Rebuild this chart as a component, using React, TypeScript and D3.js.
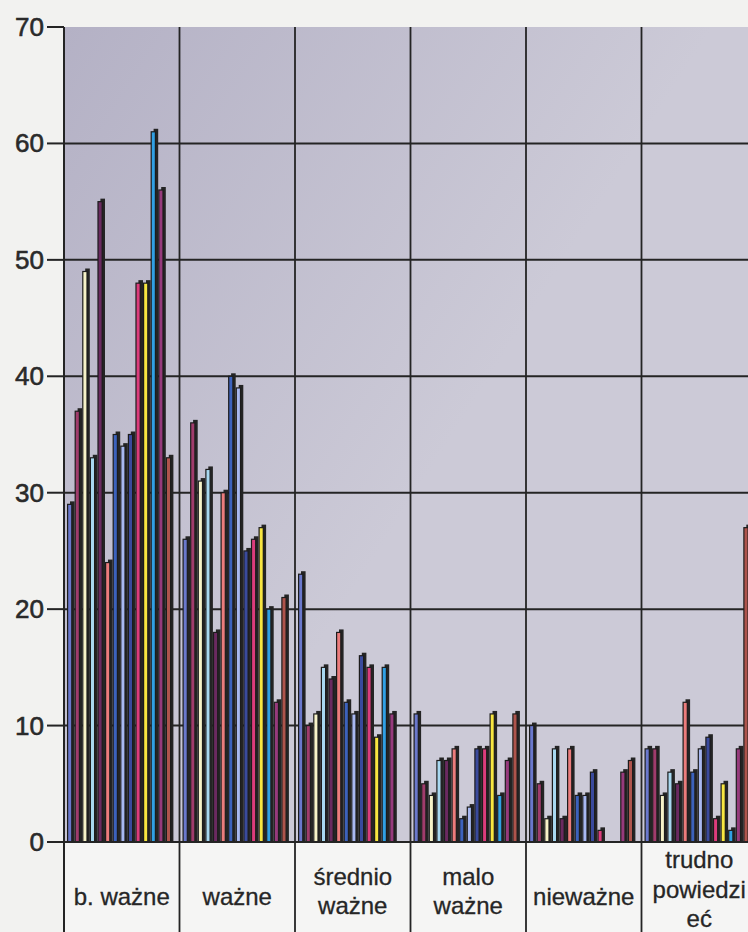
import { useEffect, useRef } from 'react';
import * as d3 from 'd3';

// Category labels (lines split for the table cells under the plot)
const categories = ['b. ważne', 'ważne', 'średnio ważne', 'malo ważne', 'nieważne', 'trudno powiedzieć'];
const categoryLines = [
  ['b. ważne'],
  ['ważne'],
  ['średnio', 'ważne'],
  ['malo', 'ważne'],
  ['nieważne'],
  ['trudno', 'powiedzi', 'eć'],
];

// 14 series per category
const bWazne = [29, 37, 49, 33, 55, 24, 35, 34, 35, 48, 48, 61, 56, 33];
const wazne = [26, 36, 31, 32, 18, 30, 40, 39, 25, 26, 27, 20, 12, 21];
const srednioWazne = [23, 10, 11, 15, 14, 18, 12, 11, 16, 15, 9, 15, 11, 0];
const maloWazne = [11, 5, 4, 7, 7, 8, 2, 3, 8, 8, 11, 4, 7, 11];
const niewazne = [10, 5, 2, 8, 2, 8, 4, 4, 6, 1, 0, 0, 6, 7];
const trudno = [8, 8, 4, 6, 5, 12, 6, 8, 9, 2, 5, 1, 8, 27];
const values = [bWazne, wazne, srednioWazne, maloWazne, niewazne, trudno];

const seriesColors = [
  '#6a78cc', '#a03c6c', '#f6f2c8', '#a8d8f0', '#6a2a60', '#ec7c7c', '#3c62bc',
  '#a8b8f0', '#3a4a9c', '#dc3c7c', '#f8e640', '#30a0e4', '#963a7c', '#ae544c',
];

const yTicks = [0, 10, 20, 30, 40, 50, 60, 70];

const W = 748;
const H = 932;
const left = 64;
const top = 27;
const zeroY = 842;
const catWidth = 115.5;
const ink = '#242424';

export default function App() {
  const ref = useRef<SVGSVGElement>(null);

  useEffect(() => {
    const svg = d3.select(ref.current);
    svg.selectAll('*').remove();

    const plotW = catWidth * categories.length;
    const x0 = d3.scaleBand<string>()
      .domain(categories)
      .range([left, left + plotW])
      .padding(0);
    const x1 = d3.scaleBand<number>()
      .domain(d3.range(seriesColors.length))
      .range([3, 3 + 7.6 * seriesColors.length])
      .padding(0);
    const y = d3.scaleLinear().domain([0, 70]).range([zeroY, top]);

    const defs = svg.append('defs');
    const grad = defs.append('linearGradient')
      .attr('id', 'plotbg')
      .attr('x1', '0').attr('y1', '0').attr('x2', '0.6').attr('y2', '0.45');
    grad.append('stop').attr('offset', '0').attr('stop-color', '#b4b1c5');
    grad.append('stop').attr('offset', '1').attr('stop-color', '#cccad7');

    // page background
    svg.append('rect').attr('width', W).attr('height', H).attr('fill', '#f2f2f0');

    // plot area
    svg.append('rect')
      .attr('x', left).attr('y', top)
      .attr('width', plotW).attr('height', zeroY - top)
      .attr('fill', 'url(#plotbg)');

    // label table
    svg.append('rect')
      .attr('x', left).attr('y', zeroY)
      .attr('width', plotW).attr('height', H - zeroY)
      .attr('fill', '#f5f5f4');

    // horizontal grid
    svg.append('g')
      .selectAll('line')
      .data(yTicks.filter(t => t > 0 && t < 70))
      .join('line')
      .attr('x1', left).attr('x2', left + plotW)
      .attr('y1', d => y(d)).attr('y2', d => y(d))
      .attr('stroke', ink).attr('stroke-width', 2);

    // vertical category lines (through the label table)
    svg.append('g')
      .selectAll('line')
      .data(d3.range(1, categories.length + 1))
      .join('line')
      .attr('x1', d => left + catWidth * d)
      .attr('x2', d => left + catWidth * d)
      .attr('y1', top).attr('y2', H)
      .attr('stroke', ink).attr('stroke-width', 1.8);

    // bars with a dark 3D back face
    const cat = svg.append('g')
      .selectAll('g')
      .data(values)
      .join('g')
      .attr('transform', (d, i) => `translate(${x0(categories[i])},0)`);

    cat.each(function (vals) {
      const g = d3.select(this);
      vals.forEach((v, s) => {
        if (v <= 0) return;
        const bx = x1(s) as number;
        g.append('rect')
          .attr('x', bx + 3).attr('y', y(v) - 3)
          .attr('width', 4.6).attr('height', zeroY - y(v) + 3)
          .attr('fill', ink);
        g.append('rect')
          .attr('x', bx + 0.6).attr('y', y(v))
          .attr('width', 4.2).attr('height', zeroY - y(v))
          .attr('fill', seriesColors[s])
          .attr('stroke', '#1c1c1c').attr('stroke-width', 1.2);
      });
    });

    // x axis line
    svg.append('line')
      .attr('x1', left).attr('x2', W)
      .attr('y1', zeroY).attr('y2', zeroY)
      .attr('stroke', ink).attr('stroke-width', 2);

    // y axis
    svg.append('line')
      .attr('x1', left).attr('x2', left)
      .attr('y1', top).attr('y2', H)
      .attr('stroke', ink).attr('stroke-width', 2);

    const ticks = svg.append('g');
    ticks.selectAll('line')
      .data(yTicks)
      .join('line')
      .attr('x1', 47).attr('x2', left)
      .attr('y1', d => y(d)).attr('y2', d => y(d))
      .attr('stroke', ink).attr('stroke-width', 2);
    ticks.selectAll('text')
      .data(yTicks)
      .join('text')
      .attr('x', 44).attr('y', d => y(d) + 9)
      .attr('text-anchor', 'end')
      .attr('fill', '#2a2a2a')
      .attr('stroke', '#2a2a2a').attr('stroke-width', 0.6)
      .style('font-family', '"Liberation Sans", Arial, sans-serif')
      .style('font-size', '26px')
      .text(d => d);

    // category labels
    const labels = svg.append('g');
    categoryLines.forEach((lines, i) => {
      const cx = (x0(categories[i]) as number) + catWidth / 2;
      const lh = 29.5;
      const center = lines.length === 1 ? 905 : lines.length === 2 ? 899.5 : 897.5;
      lines.forEach((line, j) => {
        labels.append('text')
          .attr('x', cx).attr('y', center + (j - (lines.length - 1) / 2) * lh)
          .attr('text-anchor', 'middle')
          .attr('fill', '#262626')
          .attr('stroke', '#262626').attr('stroke-width', 0.3)
          .style('font-family', '"Liberation Sans", Arial, sans-serif')
          .style('font-size', '24px')
          .text(line);
      });
    });
  }, []);

  return (
    <svg
      ref={ref}
      width={W}
      height={H}
      style={{ position: 'absolute', left: 0, top: 0, display: 'block' }}
    />
  );
}
